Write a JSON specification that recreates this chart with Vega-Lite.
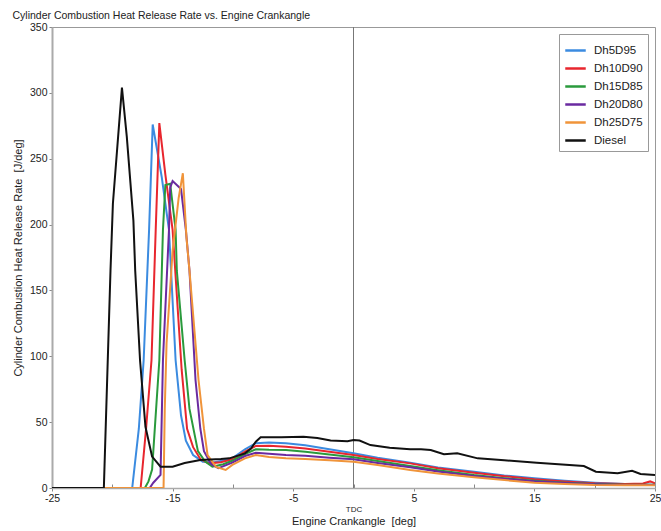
{
  "$schema": "https://vega.github.io/schema/vega-lite/v6.json",
  "width": 603,
  "height": 461,
  "autosize": "none",
  "padding": {"left": 52, "top": 27, "right": 6, "bottom": 43},
  "title": {"text": "Cylinder Combustion Heat Release Rate vs. Engine Crankangle", "anchor": "start", "fontSize": 10.5, "fontWeight": "normal", "font": "Liberation Sans", "color": "#222222", "offset": 1},
  "config": {"view": {"stroke": "#999999", "strokeWidth": 1}, "font": "Liberation Sans"},
  "datasets": {
    "hrr": [
      {"series": "Dh5D95", "angle": -25, "rate": 0},
      {"series": "Dh5D95", "angle": -18.35, "rate": 0},
      {"series": "Dh5D95", "angle": -17.8, "rate": 45},
      {"series": "Dh5D95", "angle": -17.4, "rate": 97},
      {"series": "Dh5D95", "angle": -16.95, "rate": 196},
      {"series": "Dh5D95", "angle": -16.65, "rate": 276},
      {"series": "Dh5D95", "angle": -15.9, "rate": 236},
      {"series": "Dh5D95", "angle": -15.3, "rate": 196},
      {"series": "Dh5D95", "angle": -14.75, "rate": 97},
      {"series": "Dh5D95", "angle": -14.3, "rate": 55},
      {"series": "Dh5D95", "angle": -13.9, "rate": 36},
      {"series": "Dh5D95", "angle": -13.3, "rate": 25},
      {"series": "Dh5D95", "angle": -12.5, "rate": 20},
      {"series": "Dh5D95", "angle": -11.5, "rate": 19.5},
      {"series": "Dh5D95", "angle": -10.05, "rate": 22.5},
      {"series": "Dh5D95", "angle": -9.0, "rate": 29.4},
      {"series": "Dh5D95", "angle": -8.1, "rate": 34},
      {"series": "Dh5D95", "angle": -7, "rate": 34.5},
      {"series": "Dh5D95", "angle": -5.6, "rate": 34},
      {"series": "Dh5D95", "angle": -4, "rate": 32.5},
      {"series": "Dh5D95", "angle": -2, "rate": 29.5},
      {"series": "Dh5D95", "angle": 0, "rate": 26.3},
      {"series": "Dh5D95", "angle": 2, "rate": 23},
      {"series": "Dh5D95", "angle": 4.7, "rate": 19.2},
      {"series": "Dh5D95", "angle": 7, "rate": 15.5},
      {"series": "Dh5D95", "angle": 10, "rate": 12.4},
      {"series": "Dh5D95", "angle": 12.5, "rate": 9.5},
      {"series": "Dh5D95", "angle": 15, "rate": 7.4},
      {"series": "Dh5D95", "angle": 17.5, "rate": 5.5},
      {"series": "Dh5D95", "angle": 20, "rate": 4},
      {"series": "Dh5D95", "angle": 22.5, "rate": 3},
      {"series": "Dh5D95", "angle": 25, "rate": 2.5},

      {"series": "Dh10D90", "angle": -25, "rate": 0},
      {"series": "Dh10D90", "angle": -17.65, "rate": 0},
      {"series": "Dh10D90", "angle": -17.2, "rate": 45},
      {"series": "Dh10D90", "angle": -16.75, "rate": 97},
      {"series": "Dh10D90", "angle": -16.4, "rate": 196},
      {"series": "Dh10D90", "angle": -16.1, "rate": 277},
      {"series": "Dh10D90", "angle": -15.6, "rate": 238},
      {"series": "Dh10D90", "angle": -15.0, "rate": 196},
      {"series": "Dh10D90", "angle": -14.25, "rate": 90},
      {"series": "Dh10D90", "angle": -13.8, "rate": 45},
      {"series": "Dh10D90", "angle": -13.3, "rate": 31},
      {"series": "Dh10D90", "angle": -12.7, "rate": 22},
      {"series": "Dh10D90", "angle": -12.0, "rate": 18.7},
      {"series": "Dh10D90", "angle": -11, "rate": 19.5},
      {"series": "Dh10D90", "angle": -10.05, "rate": 21.8},
      {"series": "Dh10D90", "angle": -9.0, "rate": 27.6},
      {"series": "Dh10D90", "angle": -8.1, "rate": 31.9},
      {"series": "Dh10D90", "angle": -7, "rate": 32},
      {"series": "Dh10D90", "angle": -5.6, "rate": 31.4},
      {"series": "Dh10D90", "angle": -4, "rate": 30},
      {"series": "Dh10D90", "angle": -2, "rate": 27.5},
      {"series": "Dh10D90", "angle": 0, "rate": 25},
      {"series": "Dh10D90", "angle": 2, "rate": 22},
      {"series": "Dh10D90", "angle": 4.7, "rate": 18.7},
      {"series": "Dh10D90", "angle": 7, "rate": 15},
      {"series": "Dh10D90", "angle": 10, "rate": 11.6},
      {"series": "Dh10D90", "angle": 12.5, "rate": 9},
      {"series": "Dh10D90", "angle": 15, "rate": 6.6},
      {"series": "Dh10D90", "angle": 17.5, "rate": 5},
      {"series": "Dh10D90", "angle": 20, "rate": 3.6},
      {"series": "Dh10D90", "angle": 22.5, "rate": 3},
      {"series": "Dh10D90", "angle": 24, "rate": 3.5},
      {"series": "Dh10D90", "angle": 24.6, "rate": 5},
      {"series": "Dh10D90", "angle": 25, "rate": 3.5},

      {"series": "Dh15D85", "angle": -25, "rate": 0},
      {"series": "Dh15D85", "angle": -17.3, "rate": 0},
      {"series": "Dh15D85", "angle": -17.0, "rate": 5},
      {"series": "Dh15D85", "angle": -16.7, "rate": 14},
      {"series": "Dh15D85", "angle": -16.1, "rate": 97},
      {"series": "Dh15D85", "angle": -15.8, "rate": 196},
      {"series": "Dh15D85", "angle": -15.6, "rate": 230},
      {"series": "Dh15D85", "angle": -15.2, "rate": 231},
      {"series": "Dh15D85", "angle": -14.75, "rate": 196},
      {"series": "Dh15D85", "angle": -14.65, "rate": 165},
      {"series": "Dh15D85", "angle": -14.0, "rate": 97},
      {"series": "Dh15D85", "angle": -13.6, "rate": 60},
      {"series": "Dh15D85", "angle": -12.9, "rate": 28},
      {"series": "Dh15D85", "angle": -12.3, "rate": 20},
      {"series": "Dh15D85", "angle": -11.7, "rate": 16.2},
      {"series": "Dh15D85", "angle": -10.8, "rate": 18},
      {"series": "Dh15D85", "angle": -10.05, "rate": 20.7},
      {"series": "Dh15D85", "angle": -9.0, "rate": 25.8},
      {"series": "Dh15D85", "angle": -8.1, "rate": 29.4},
      {"series": "Dh15D85", "angle": -7, "rate": 29},
      {"series": "Dh15D85", "angle": -5.6, "rate": 28.9},
      {"series": "Dh15D85", "angle": -4, "rate": 27.5},
      {"series": "Dh15D85", "angle": -2, "rate": 25.5},
      {"series": "Dh15D85", "angle": 0, "rate": 23.3},
      {"series": "Dh15D85", "angle": 2, "rate": 20.5},
      {"series": "Dh15D85", "angle": 4.7, "rate": 16.7},
      {"series": "Dh15D85", "angle": 7, "rate": 13.5},
      {"series": "Dh15D85", "angle": 10, "rate": 9.9},
      {"series": "Dh15D85", "angle": 12.5, "rate": 7.5},
      {"series": "Dh15D85", "angle": 15, "rate": 5.5},
      {"series": "Dh15D85", "angle": 17.5, "rate": 4},
      {"series": "Dh15D85", "angle": 20, "rate": 3},
      {"series": "Dh15D85", "angle": 22.5, "rate": 2.5},
      {"series": "Dh15D85", "angle": 25, "rate": 2.5},

      {"series": "Dh20D80", "angle": -25, "rate": 0},
      {"series": "Dh20D80", "angle": -16.9, "rate": 0},
      {"series": "Dh20D80", "angle": -16.6, "rate": 4},
      {"series": "Dh20D80", "angle": -16.0, "rate": 10},
      {"series": "Dh20D80", "angle": -15.8, "rate": 97},
      {"series": "Dh20D80", "angle": -15.3, "rate": 196},
      {"series": "Dh20D80", "angle": -15.2, "rate": 228},
      {"series": "Dh20D80", "angle": -15.0, "rate": 233},
      {"series": "Dh20D80", "angle": -14.3, "rate": 227},
      {"series": "Dh20D80", "angle": -13.9, "rate": 196},
      {"series": "Dh20D80", "angle": -13.6, "rate": 165},
      {"series": "Dh20D80", "angle": -13.1, "rate": 82},
      {"series": "Dh20D80", "angle": -12.7, "rate": 45},
      {"series": "Dh20D80", "angle": -12.4, "rate": 28},
      {"series": "Dh20D80", "angle": -11.8, "rate": 18},
      {"series": "Dh20D80", "angle": -11.2, "rate": 15},
      {"series": "Dh20D80", "angle": -10.05, "rate": 19.2},
      {"series": "Dh20D80", "angle": -9.0, "rate": 24.3},
      {"series": "Dh20D80", "angle": -8.1, "rate": 26.8},
      {"series": "Dh20D80", "angle": -7, "rate": 26},
      {"series": "Dh20D80", "angle": -5.6, "rate": 25},
      {"series": "Dh20D80", "angle": -4, "rate": 24.5},
      {"series": "Dh20D80", "angle": -2, "rate": 23},
      {"series": "Dh20D80", "angle": 0, "rate": 21.8},
      {"series": "Dh20D80", "angle": 2, "rate": 19},
      {"series": "Dh20D80", "angle": 4.7, "rate": 15.7},
      {"series": "Dh20D80", "angle": 7, "rate": 12.5},
      {"series": "Dh20D80", "angle": 10, "rate": 9.1},
      {"series": "Dh20D80", "angle": 12.5, "rate": 7},
      {"series": "Dh20D80", "angle": 15, "rate": 5.1},
      {"series": "Dh20D80", "angle": 17.5, "rate": 3.8},
      {"series": "Dh20D80", "angle": 20, "rate": 2.8},
      {"series": "Dh20D80", "angle": 22.5, "rate": 2.3},
      {"series": "Dh20D80", "angle": 25, "rate": 2.2},

      {"series": "Dh25D75", "angle": -25, "rate": 0},
      {"series": "Dh25D75", "angle": -15.75, "rate": 0},
      {"series": "Dh25D75", "angle": -15.65, "rate": 60},
      {"series": "Dh25D75", "angle": -15.5, "rate": 110},
      {"series": "Dh25D75", "angle": -15.0, "rate": 180},
      {"series": "Dh25D75", "angle": -14.5, "rate": 220},
      {"series": "Dh25D75", "angle": -14.15, "rate": 239},
      {"series": "Dh25D75", "angle": -13.85, "rate": 190},
      {"series": "Dh25D75", "angle": -13.6, "rate": 165},
      {"series": "Dh25D75", "angle": -12.85, "rate": 82},
      {"series": "Dh25D75", "angle": -12.4, "rate": 45},
      {"series": "Dh25D75", "angle": -12.1, "rate": 25},
      {"series": "Dh25D75", "angle": -11.4, "rate": 16},
      {"series": "Dh25D75", "angle": -10.6, "rate": 13.7},
      {"series": "Dh25D75", "angle": -10.05, "rate": 17.5},
      {"series": "Dh25D75", "angle": -9.0, "rate": 22.5},
      {"series": "Dh25D75", "angle": -8.1, "rate": 25},
      {"series": "Dh25D75", "angle": -7, "rate": 23.5},
      {"series": "Dh25D75", "angle": -5.6, "rate": 22.5},
      {"series": "Dh25D75", "angle": -4, "rate": 22},
      {"series": "Dh25D75", "angle": -2, "rate": 21},
      {"series": "Dh25D75", "angle": 0, "rate": 20},
      {"series": "Dh25D75", "angle": 2, "rate": 17.5},
      {"series": "Dh25D75", "angle": 4.7, "rate": 13.7},
      {"series": "Dh25D75", "angle": 7, "rate": 11},
      {"series": "Dh25D75", "angle": 10, "rate": 8.1},
      {"series": "Dh25D75", "angle": 12.5, "rate": 6},
      {"series": "Dh25D75", "angle": 15, "rate": 4},
      {"series": "Dh25D75", "angle": 17.5, "rate": 3},
      {"series": "Dh25D75", "angle": 20, "rate": 2.2},
      {"series": "Dh25D75", "angle": 22.5, "rate": 2},
      {"series": "Dh25D75", "angle": 25, "rate": 2},

      {"series": "Diesel", "angle": -25, "rate": 0},
      {"series": "Diesel", "angle": -20.7, "rate": 0},
      {"series": "Diesel", "angle": -20.15, "rate": 165},
      {"series": "Diesel", "angle": -19.95, "rate": 216},
      {"series": "Diesel", "angle": -19.2, "rate": 304},
      {"series": "Diesel", "angle": -18.8, "rate": 267},
      {"series": "Diesel", "angle": -18.25, "rate": 203},
      {"series": "Diesel", "angle": -18.1, "rate": 165},
      {"series": "Diesel", "angle": -17.7, "rate": 97},
      {"series": "Diesel", "angle": -17.25, "rate": 46.5},
      {"series": "Diesel", "angle": -16.7, "rate": 23.8},
      {"series": "Diesel", "angle": -16.0, "rate": 16.2},
      {"series": "Diesel", "angle": -15.0, "rate": 16.2},
      {"series": "Diesel", "angle": -14, "rate": 19},
      {"series": "Diesel", "angle": -12.7, "rate": 21.3},
      {"series": "Diesel", "angle": -11, "rate": 22},
      {"series": "Diesel", "angle": -10.3, "rate": 22.5},
      {"series": "Diesel", "angle": -9.0, "rate": 26.3},
      {"series": "Diesel", "angle": -8.5, "rate": 30},
      {"series": "Diesel", "angle": -8.1, "rate": 35.2},
      {"series": "Diesel", "angle": -7.7, "rate": 38.5},
      {"series": "Diesel", "angle": -6, "rate": 38.5},
      {"series": "Diesel", "angle": -4.15, "rate": 39},
      {"series": "Diesel", "angle": -3, "rate": 38},
      {"series": "Diesel", "angle": -1.9, "rate": 36},
      {"series": "Diesel", "angle": -0.5, "rate": 35.5},
      {"series": "Diesel", "angle": 0, "rate": 36.4},
      {"series": "Diesel", "angle": 0.5, "rate": 36},
      {"series": "Diesel", "angle": 1.4, "rate": 32.6},
      {"series": "Diesel", "angle": 3, "rate": 30.5},
      {"series": "Diesel", "angle": 4.7, "rate": 29.4},
      {"series": "Diesel", "angle": 5.6, "rate": 29.4},
      {"series": "Diesel", "angle": 6.4, "rate": 28.9},
      {"series": "Diesel", "angle": 7.5, "rate": 25.6},
      {"series": "Diesel", "angle": 8.6, "rate": 26.3},
      {"series": "Diesel", "angle": 10.3, "rate": 22.5},
      {"series": "Diesel", "angle": 12.5, "rate": 21},
      {"series": "Diesel", "angle": 15.2, "rate": 19.2},
      {"series": "Diesel", "angle": 17, "rate": 18},
      {"series": "Diesel", "angle": 19.1, "rate": 16.7},
      {"series": "Diesel", "angle": 20.1, "rate": 12.4},
      {"series": "Diesel", "angle": 21.9, "rate": 11.2},
      {"series": "Diesel", "angle": 23.1, "rate": 13.1},
      {"series": "Diesel", "angle": 23.8, "rate": 10.6},
      {"series": "Diesel", "angle": 25, "rate": 9.9}
    ],
    "tdc": [{"angle": 0}]
  },
  "layer": [
    {
      "data": {"name": "tdc"},
      "mark": {"type": "rule", "color": "#777777", "strokeWidth": 1},
      "encoding": {"x": {"field": "angle", "type": "quantitative"}}
    },
    {
      "data": {"name": "hrr"},
      "mark": {"type": "line", "strokeWidth": 2, "clip": true},
      "encoding": {
        "x": {
          "field": "angle", "type": "quantitative",
          "scale": {"domain": [-25, 25], "nice": false, "zero": false},
          "axis": {
            "values": [-25, -20, -15, -10, -5, 0, 5, 10, 15, 20, 25],
            "labelExpr": "datum.value == 0 ? 'TDC' : (abs(datum.value) % 10 == 5 ? '' + datum.value : '')",
            "labelFontSize": {"condition": {"test": "datum.value == 0", "value": 8}, "value": 10.5},
            "labelPadding": {"condition": {"test": "datum.value == 0", "value": 21}, "value": 2},
            "tickSize": {"condition": {"test": "abs(datum.value) % 10 == 5", "value": 3}, "value": -4},
            "tickColor": "#888888",
            "labelColor": "#222222",
            "labelFont": "Liberation Sans",
            "labelFlush": false,
            "domainColor": "#aaaaaa",
            "domainWidth": 1.5,
            "grid": false,
            "title": "Engine Crankangle\u00a0 [deg]",
            "titleFont": "Liberation Sans",
            "titleFontSize": 11,
            "titleFontWeight": "normal",
            "titleColor": "#222222",
            "titlePadding": 2
          }
        },
        "y": {
          "field": "rate", "type": "quantitative",
          "scale": {"domain": [0, 350], "nice": false},
          "axis": {
            "values": [0, 50, 100, 150, 200, 250, 300, 350],
            "tickSize": 3,
            "tickColor": "#888888",
            "labelColor": "#222222",
            "labelFont": "Liberation Sans",
            "labelFontSize": 10.5,
            "labelPadding": 2,
            "domainColor": "#aaaaaa",
            "domainWidth": 2,
            "grid": false,
            "title": "Cylinder Combustion Heat Release Rate\u00a0 [J/deg]",
            "titleFont": "Liberation Sans",
            "titleFontSize": 11,
            "titleFontWeight": "normal",
            "titleColor": "#222222",
            "titlePadding": 6
          }
        },
        "color": {
          "field": "series", "type": "nominal",
          "scale": {
            "domain": ["Dh5D95", "Dh10D90", "Dh15D85", "Dh20D80", "Dh25D75", "Diesel"],
            "range": ["#3b8be0", "#e8262e", "#2a9a3c", "#6a2aa0", "#f0943a", "#111111"]
          },
          "legend": {
            "title": null,
            "orient": "top-right",
            "offset": 7,
            "strokeColor": "#999999",
            "fillColor": "white",
            "padding": 5,
            "labelFont": "Liberation Sans",
            "labelFontSize": 11.5,
            "labelColor": "#222222",
            "labelOffset": 7,
            "symbolType": "stroke",
            "symbolSize": 420,
            "symbolStrokeWidth": 2.5,
            "rowPadding": 1
          }
        }
      }
    }
  ]
}
